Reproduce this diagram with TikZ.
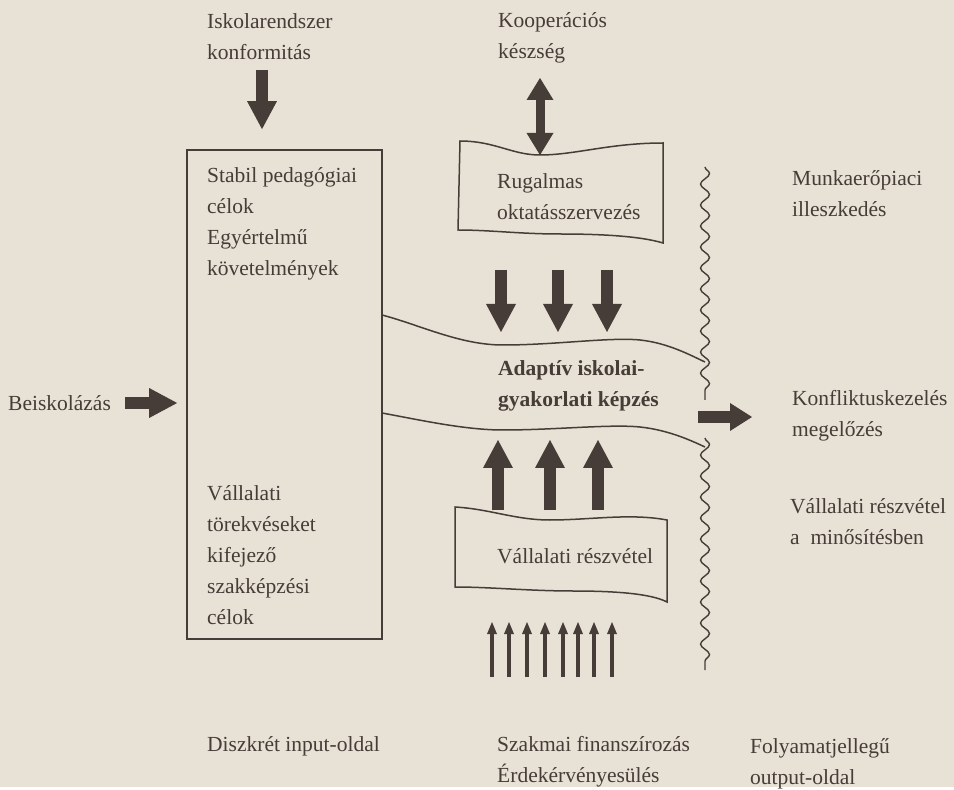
\documentclass[tikz,border=0pt]{standalone}
\usepackage{fontspec}
\setmainfont{Liberation Serif}
\usepackage{tikz}
\usetikzlibrary{arrows.meta,decorations.pathmorphing}
\definecolor{ink}{RGB}{70,60,56}
\definecolor{paper}{RGB}{231,226,213}
\tikzset{
	txt/.style={
		font=\fontsize{21.5}{31}\selectfont, text=ink,
		align=left, anchor=west, inner sep=0pt
	},
	frame/.style={draw=ink, line width=1.8pt},
	band/.style={draw=ink, line width=1.5pt},
	wave/.style={
		draw=ink, line width=1.4pt, decorate,
		decoration={snake, segment length=21pt, amplitude=4.5pt}
	},
	bigarrow/.style={
		draw=ink, line width=12pt,
		-{Triangle[width=30pt,length=28pt,line width=0pt]}
	},
	dblarrow/.style={
		draw=ink, line width=9pt,
		{Triangle[width=27pt,length=22pt,line width=0pt]}-{Triangle[width=27pt,length=22pt,line width=0pt]}
	},
	thinarrow/.style={
		draw=ink, line width=3.2pt,
		-{Triangle[width=10pt,length=12pt,line width=0pt]}
	}
}

\begin{document}
\begin{tikzpicture}[x=1pt,y=-1pt]
				\fill[paper] (0,0) rectangle (954,787);
				% input side
				\node[frame, minimum width=195pt, minimum height=489pt, inner sep=0pt] (bal) at (284.5,394.5) {};
				\node[txt] (iskola) at (207,37) {Iskolarendszer\\konformitás};
				\node[txt] (stabil) at (207,224) {Stabil pedagógiai\\célok\\Egyértelmű\\követelmények};
				\node[txt] (torekves) at (207,555) {Vállalati\\törekvéseket\\kifejező\\szakképzési\\célok};
				\node[txt] (beisk) at (8,403) {Beiskolázás};
				\node[txt] (diszkret) at (207,746) {Diszkrét input-oldal};
				% middle
				\node[txt] (koop) at (498,38) {Kooperációs\\készség};
				\node[txt] (rugalmas) at (497,197) {Rugalmas\\oktatásszervezés};
				\node[txt, font=\fontsize{21.5}{31}\selectfont\bfseries] (adaptiv) at (498,386) {Adaptív iskolai-\\gyakorlati képzés};
				\node[txt] (reszvetel) at (497,556) {Vállalati részvétel};
				\node[txt] (szakmai) at (497,762) {Szakmai finanszírozás\\Érdekérvényesülés};
				% output side
				\node[txt] (munka) at (792,194) {Munkaerőpiaci\\illeszkedés};
				\node[txt] (konfl) at (792,416) {Konfliktuskezelés\\megelőzés};
				\node[txt] (minosites) at (790,522) {Vállalati részvétel\\a\ \ minősítésben};
				\node[txt] (folyamat) at (750,764) {Folyamatjellegű\\output-oldal};
				% wavy shapes
				\draw[band] (460,141) .. controls (495,141) and (512,155) .. (540,155) coordinate (rugtop)
					.. controls (575,155) and (610,143) .. (663,143) -- (663,243)
					.. controls (640,236) and (600,234) .. (560,234)
					.. controls (520,234) and (490,230) .. (458,230) -- cycle;
				\draw[band] (382,315) .. controls (420,325) and (460,345) .. (503,345)
					.. controls (555,345) and (610,337) .. (640,340)
					.. controls (668,343) and (690,355) .. (705,362);
				\draw[band] (382,413) .. controls (420,420) and (465,430) .. (503,430)
					.. controls (555,430) and (610,424) .. (640,427)
					.. controls (668,430) and (690,440) .. (705,447);
				\draw[band] (455,507) .. controls (490,509) and (515,520) .. (550,520)
					.. controls (590,520) and (630,513) .. (667,520) -- (667,602)
					.. controls (650,593) and (610,591) .. (573,591)
					.. controls (530,591) and (490,587) .. (455,587) -- cycle;
				\draw[wave] (705,167) -- (705,400);
				\draw[wave] (705,438) -- (705,670);
				% arrows
				\coordinate (iskolanyil) at (262,70);
				\coordinate (koopnyil) at (540,78);
				\coordinate (kinyil) at (698,417);
				\draw[bigarrow, shorten >=20pt] (iskolanyil) -- (iskolanyil |- bal.north);
				\draw[bigarrow, shorten <=14pt, shorten >=9pt] (beisk.east) -- (beisk.east -| bal.west);
				\draw[dblarrow] (koopnyil) -- (rugtop);
				\foreach \x in {501,558,607}
					\draw[bigarrow] (\x,270) -- (\x,332);
				\foreach \x in {498,550,598}
					\draw[bigarrow] (\x,510) -- (\x,440);
				\draw[bigarrow, -{Triangle[width=28pt,length=22pt,line width=0pt]}, shorten >=40pt] (kinyil) -- (kinyil -| konfl.west);
				\foreach \x in {492,509,527,545,563,578,594,612}
					\draw[thinarrow] (\x,677) -- (\x,622);
			\end{tikzpicture}
\end{document}
